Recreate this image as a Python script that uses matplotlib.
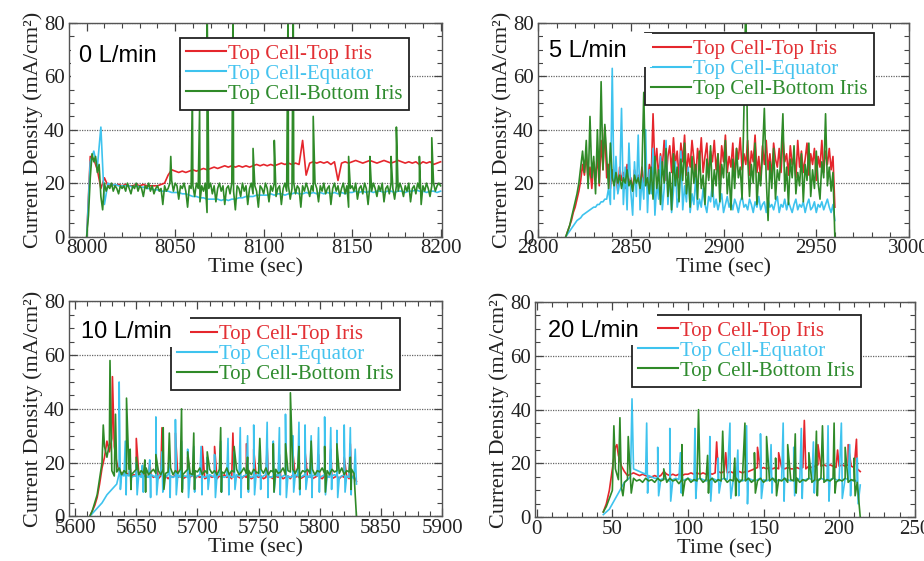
import numpy as np
import matplotlib
matplotlib.use("Agg")
import matplotlib.pyplot as plt
from matplotlib.ticker import MultipleLocator
from matplotlib.patches import Rectangle

plt.rcParams['font.family'] = ['Liberation Serif', 'DejaVu Serif']

series_names = ['Top Cell-Top Iris', 'Top Cell-Equator', 'Top Cell-Bottom Iris']
line_colors = ['#e5262c', '#3ec3ee', '#2f8a28']
text_colors = ['#e23034', '#45c3ef', '#2e8b2e']
flow_labels = ['0 L/min', '5 L/min', '10 L/min', '20 L/min']
y_ticks = [0, 20, 40, 60, 80]

# ---------------- Panel 1 : 0 L/min ----------------
p1_t_rc = np.arange(8000, 8201, 2)
p1_red = [0, 30, 29, 25, 18, 22, 19, 19.5, 19, 19.5,
          19, 19.5, 19, 19, 19.5, 19, 19.5, 19, 19, 19,
          19, 19.5, 20, 23, 25, 24.5, 24, 24.5, 24, 24.5,
          25, 24.5, 25, 25.5, 25, 25.5, 26, 25.5, 26, 26.5,
          26, 26.5, 26, 26.5, 26, 26.5, 26, 26.5, 27, 26.5,
          27, 26.5, 27, 26.5, 27, 27.5, 27, 27.5, 27, 27.5,
          27, 36, 23, 27.5, 28, 27.5, 28, 27.5, 28, 27,
          28, 21, 27.5, 28, 27.5, 28, 28.5, 28, 27.5, 28,
          28.5, 28, 27.5, 28, 28.5, 28, 27.5, 28, 28.5, 28,
          27.5, 28, 27.5, 28, 27, 28, 27.5, 28, 27, 27.5,
          28]
p1_cyan = [0, 28, 32, 26, 41, 12, 20, 19, 19.5, 19,
           19, 19, 19, 18.5, 19, 18.5, 18.5, 18, 18, 17.5,
           17.5, 17, 17, 17, 16.5, 16.5, 16.5, 16, 16, 15.5,
           15, 15, 14.5, 14.5, 14, 14, 14, 14, 13.5, 14,
           13.5, 14, 14, 14.5, 14.5, 15, 15, 15, 15.5, 15.5,
           15.5, 15.5, 16, 15.5, 16, 16, 15.5, 16, 16, 16.5,
           16, 16, 16.5, 16, 16.5, 16, 16.5, 16, 16.5, 16,
           16.5, 16, 16.5, 16, 16.5, 16.5, 17, 16.5, 17, 16.5,
           17, 16.5, 17, 17, 16.5, 17, 17, 16.5, 17, 17,
           16.5, 17, 17, 17.5, 17, 17, 16.5, 17, 17, 16.5,
           17]
p1_t_g = np.arange(8000, 8201, 1)
p1_green = [0, 8, 22, 31, 28, 30, 24, 27, 15, 10,
            20, 17, 19, 18, 20, 17, 19, 18, 16, 19,
            18, 19, 17, 20, 18, 16, 19, 18, 20, 17,
            19, 18, 15, 19, 18, 20, 17, 19, 16, 18,
            19, 17, 18, 12, 19, 17, 18, 20, 21, 17,
            20, 19, 14, 19, 18, 20, 17, 11, 19, 18,
            19, 15, 20, 18, 13, 19, 17, 20, 9, 18,
            20, 16, 19, 13, 18, 20, 17, 19, 12, 18,
            19, 16, 20, 17, 10, 19, 18, 15, 20, 17,
            19, 12, 18, 20, 16, 19, 17, 11, 19, 18,
            16, 20, 18, 13, 19, 17, 20, 15, 18, 19,
            12, 18, 20, 17, 19, 14, 18, 20, 16, 19,
            18, 11, 19, 17, 20, 18, 15, 19, 17, 20,
            18, 13, 19, 17, 20, 16, 18, 19, 12, 18,
            20, 17, 19, 15, 18, 20, 16, 19, 11, 18,
            19, 17, 20, 14, 18, 19, 16, 20, 18, 12,
            19, 17, 20, 18, 15, 19, 17, 20, 13, 18,
            19, 16, 20, 18, 14, 19, 17, 20, 18, 15,
            19, 17, 20, 13, 18, 19, 16, 20, 18, 12,
            19, 17, 20, 18, 15, 19, 20, 17, 19, 20,
            19]
p1_green_spk_t = [8047.5, 8059.7, 8063.8, 8068.0, 8082.7, 8094, 8106, 8113.8,
                  8116.7, 8128, 8148, 8160, 8172, 8175, 8188, 8195]
p1_green_spk_v = [30, 55, 48, 90, 90, 33, 36, 90, 90, 45, 30, 30, 30, 41, 30, 37]

# ---------------- Panel 2 : 5 L/min ----------------
p2_t = np.arange(2815, 2961, 1)
p2_red = [0, 2, 4, 6, 9, 11, 14, 17, 21, 27,
          23, 31, 21, 26, 18, 28, 22, 30, 19, 36,
          25, 41, 22, 27, 18, 25, 20, 23, 17, 26,
          21, 24, 18, 27, 20, 22, 17, 25, 21, 23,
          19, 26, 20, 24, 18, 27, 22, 46, 25, 33,
          22, 31, 26, 36, 21, 30, 34, 24, 37, 27,
          32, 22, 35, 28, 38, 23, 31, 26, 36, 29,
          21, 33, 27, 37, 24, 30, 35, 22, 32, 28,
          36, 25, 31, 21, 34, 28, 38, 24, 30, 26,
          35, 22, 33, 29, 37, 25, 31, 27, 36, 23,
          32, 28, 38, 24, 30, 21, 34, 27, 36, 25,
          31, 22, 35, 29, 26, 33, 24, 37, 28, 31,
          23, 34, 27, 30, 22, 36, 26, 32, 24, 29,
          35, 23, 31, 27, 33, 21, 30, 26, 36, 24,
          32, 27, 33, 25, 30, 11]
p2_cyan = [0, 1, 2, 3, 4, 5, 6, 6.5, 7, 8,
           8.5, 9, 9.5, 10, 10.5, 11, 11, 12, 12, 13,
           13, 14, 14, 18, 12, 63, 14, 30, 16, 20,
           48, 12, 26, 10, 35, 17, 8, 28, 15, 38,
           10, 22, 14, 40, 9, 25, 16, 33, 8, 20,
           14, 30, 10, 18, 36, 12, 24, 9, 17, 28,
           11, 15, 32, 10, 19, 13, 26, 9, 16, 12,
           22, 10, 14, 11, 18, 12, 9, 15, 13, 20,
           11, 14, 10, 13, 16, 9, 12, 15, 11, 13,
           10, 14, 12, 9, 13, 15, 11, 12, 10, 14,
           12, 9, 13, 11, 15, 10, 12, 13, 9, 14,
           11, 12, 10, 13, 15, 9, 12, 11, 14, 10,
           13, 11, 9, 12, 14, 10, 12, 11, 13, 9,
           12, 14, 10, 11, 13, 9, 12, 11, 13, 10,
           12, 14, 11, 9, 12, 6]
p2_green = [0, 2, 4, 7, 10, 13, 16, 20, 26, 32,
            24, 36, 18, 45, 22, 30, 16, 40, 20, 58,
            25, 42, 30, 18, 35, 22, 19, 24, 20, 23,
            18, 22, 20, 25, 19, 21, 17, 23, 20, 22,
            18, 24, 54, 19, 22, 16, 26, 14, 30, 18,
            25, 12, 28, 20, 33, 15, 24, 10, 31, 19,
            26, 13, 29, 21, 35, 16, 24, 11, 30, 20,
            27, 14, 32, 18, 23, 12, 29, 21, 34, 15,
            25, 19, 31, 13, 27, 22, 36, 16, 24, 10,
            29, 18, 33, 22, 26, 14, 48, 90, 30, 15,
            27, 20, 35, 12, 24, 19, 31, 48, 22, 6,
            28, 18, 33, 14, 25, 21, 30, 46, 17, 26,
            12, 29, 22, 34, 16, 24, 19, 31, 13, 27,
            21, 35, 15, 25, 18, 32, 20, 14, 28, 22,
            46, 19, 26, 17, 24, 0]

# ---------------- Panel 3 : 10 L/min ----------------
p3_t = np.arange(5612, 5831, 2)
p3_red = [0, 2, 4, 7, 12, 18, 22, 28, 24, 29,
          26, 20, 17, 16, 15.5, 16, 15.5, 15, 15.5, 15,
          16, 15, 15.5, 14.5, 15, 15.5, 14.5, 15, 14, 15,
          14.5, 15, 14, 15, 14.5, 15.5, 14.5, 15, 14, 14.5,
          15, 14.5, 15.5, 14, 15, 14.5, 15, 14, 14.5, 15,
          14.5, 15, 14, 15, 14.5, 15.5, 14.5, 15, 14, 14.5,
          15, 14.5, 14, 15, 14.5, 15, 14, 14.5, 15, 14.5,
          15, 14, 14.5, 15, 14.5, 14, 15, 14.5, 15, 14,
          14.5, 15, 14, 15.5, 14.5, 15, 14, 14.5, 15, 14.5,
          15, 14, 14.5, 15, 14.5, 14, 15, 14.5, 15, 14,
          14.5, 15, 14, 15, 14.5, 15, 14, 14.5, 15, 13]
p3_cyan = [0, 1, 2, 3, 4, 5, 6.5, 8, 9, 10,
           11, 12, 16, 15.5, 15, 15.5, 15, 14.5, 15, 15,
           15.5, 14.5, 15, 15, 14.5, 15.5, 15, 14.5, 15, 15.5,
           15, 14.5, 15.5, 15, 14.5, 15, 15.5, 14.5, 15, 15,
           14.5, 15.5, 15, 14.5, 15, 15.5, 15, 14.5, 15, 15.5,
           15, 14.5, 15, 15.5, 15, 14.5, 15, 15.5, 14.5, 15,
           15.5, 15, 14.5, 15, 15.5, 15, 14.5, 15, 15.5, 15,
           14.5, 15, 15.5, 15, 14.5, 15, 15.5, 15, 14.5, 15,
           15.5, 15, 14.5, 15, 15.5, 15, 14.5, 15, 15.5, 15,
           14.5, 15, 15.5, 15, 14.5, 15, 15.5, 15, 14.5, 15,
           15.5, 15, 14.5, 15, 15.5, 15, 14.5, 15, 14, 12]
p3_green = [0, 2, 5, 8, 14, 20, 26, 22, 27, 17,
            15, 16.5, 18, 15.5, 17, 16, 17.5, 15.5, 16.5, 17.5,
            15.5, 17, 16, 18, 15.5, 16.5, 17.5, 16, 17, 15.5,
            17.5, 16, 16.5, 18, 15.5, 17, 16, 17.5, 15.5, 16.5,
            17.5, 16, 15.5, 17, 16.5, 18, 15.5, 17, 16, 17.5,
            16, 17, 15.5, 17.5, 16.5, 16, 18, 15.5, 17, 16.5,
            17.5, 15.5, 16.5, 18, 16, 17, 15.5, 17.5, 16.5, 16,
            17.5, 16, 18, 15.5, 17, 16.5, 17.5, 16, 16.5, 18,
            15.5, 17, 16.5, 17.5, 16, 18, 15.5, 17, 16.5, 17.5,
            16, 17.5, 15.5, 17, 16.5, 18, 16, 17, 15.5, 17.5,
            16.5, 17, 16, 18, 15.5, 17, 16.5, 17.5, 16, 0]
p3_red_spk_t = [5630.5, 5645, 5650, 5661, 5666, 5671, 5682, 5692, 5704, 5714, 5729,
                5740, 5746, 5757, 5767, 5778, 5788, 5799, 5809, 5820, 5825]
p3_red_spk_v = [52, 18, 29, 20, 22, 33, 31, 22, 26, 26, 31, 27, 25, 26, 23, 24, 24, 23, 25, 22, 27]
p3_cyan_hi_t = [5636, 5641, 5645, 5650, 5655, 5661, 5666, 5671, 5677, 5682, 5687, 5692, 5697,
                5703, 5708, 5714, 5719, 5725, 5730, 5735, 5741, 5746, 5751, 5757, 5762, 5767,
                5772, 5778, 5783, 5788, 5793, 5799, 5804, 5809, 5814, 5820, 5825, 5829]
p3_cyan_hi_v = [50, 28, 22, 20, 19, 21, 37, 24, 22, 36, 28, 25, 26, 26, 22, 23, 28, 29, 24, 33,
                30, 34, 26, 35, 28, 33, 38, 30, 35, 34, 30, 33, 37, 33, 32, 34, 33, 25]
p3_cyan_lo_t = [5637, 5641.7, 5645.7, 5650.7, 5655.7, 5661.7, 5666.7, 5671.7, 5677.7, 5682.7,
                5687.7, 5692.7, 5697.7, 5703.7, 5708.7, 5714.7, 5719.7, 5725.7, 5730.7, 5735.7,
                5741.7, 5746.7, 5751.7, 5757.7, 5762.7, 5767.7, 5772.7, 5778.7, 5783.7, 5788.7,
                5793.7, 5799.7, 5804.7, 5809.7, 5814.7, 5820.7, 5825.7]
p3_cyan_lo_v = [10, 8, 10, 8, 9, 7, 8, 9, 7, 8, 10, 7, 9, 8, 10, 7, 9, 8, 10, 7, 9, 8, 10, 7,
                9, 8, 7, 9, 8, 10, 7, 9, 8, 10, 7, 9, 8]
p3_green_spk_t = [5623, 5628.5, 5633, 5642, 5645, 5645.6, 5650, 5657, 5657.6, 5666, 5672, 5672.6,
                  5677, 5687, 5687.6, 5692, 5697, 5697.6, 5708, 5719, 5719.6, 5730, 5741, 5741.6,
                  5751, 5762, 5762.6, 5772, 5776, 5783, 5783.6, 5793, 5804, 5804.6, 5814, 5825, 5825.6]
p3_green_spk_v = [34, 58, 38, 44, 25, 10, 22, 21, 9, 23, 33, 10, 31, 40, 9, 24, 31, 10, 24, 33,
                  9, 26, 22, 10, 29, 27, 9, 27, 46, 26, 10, 28, 26, 9, 27, 22, 10]

# ---------------- Panel 4 : 20 L/min ----------------
p4_t = np.arange(44, 215, 2)
p4_red = [2, 5, 10, 18, 26, 23, 19, 17, 15.5, 16,
          16.5, 16, 15.5, 16, 15.5, 15, 15, 15.5, 15, 15.5,
          17, 16, 15.5, 16, 15.5, 16, 15.5, 16, 16, 16.5,
          16, 16.5, 16, 16.5, 16, 16.5, 16, 16.5, 17, 16.5,
          17, 16.5, 17, 16.5, 17, 17, 16.5, 17, 17, 17.5,
          18, 18.5, 18, 18.5, 18, 18.5, 18, 18.5, 18, 18.5,
          18, 18.5, 18, 18, 18.5, 18, 18.5, 18, 19, 18.5,
          19, 19.5, 19, 19.5, 19, 19.5, 19, 18.5, 19, 19.5,
          19, 19.5, 19, 18.5, 18, 17]
p4_cyan = [1, 2, 3, 5, 7, 9, 11, 13, 14, 15,
           18, 17.5, 17, 16.5, 16, 15.5, 15, 14.5, 14.5, 14,
           14.5, 14, 13.5, 14, 14.5, 14, 13.5, 14, 14.5, 14,
           13.5, 14, 14.5, 14, 13.5, 14, 14.5, 14, 13.5, 14,
           14.5, 14, 13.5, 14, 14.5, 14, 13.5, 14, 14.5, 14,
           13.5, 14, 14.5, 14, 13.5, 14, 14.5, 14, 13.5, 14,
           14.5, 14, 13.5, 14, 14.5, 14, 13.5, 14, 14.5, 14,
           13.5, 14, 14.5, 14, 13.5, 14, 14.5, 14, 13.5, 14,
           14.5, 14, 13.5, 14, 13, 12]
p4_green = [2, 4, 7, 10, 18, 14, 11, 13, 14, 14,
            14.5, 13.5, 14, 13, 14.5, 13.5, 14, 13, 14.5, 13.5,
            14, 13, 14.5, 13.5, 14, 12.5, 14, 13.5, 14.5, 13,
            14, 13.5, 14.5, 13, 14, 13.5, 14.5, 13, 14, 13.5,
            14.5, 13, 14, 13.5, 14.5, 13, 14, 13.5, 14.5, 13,
            14, 13.5, 14.5, 13, 14, 13.5, 14.5, 13, 14, 13.5,
            14.5, 13, 14, 13.5, 14.5, 13, 14, 13.5, 14.5, 13,
            14, 13.5, 14.5, 13, 14, 13.5, 14.5, 13, 14, 13.5,
            14.5, 13, 14, 13.5, 13, 0]
p4_red_spk_t = [53, 119, 125, 146, 160, 177, 186, 199, 206, 211.5]
p4_red_spk_v = [27, 28, 24, 26, 24, 36, 27, 25, 27, 29]
p4_cyan_hi_t = [63, 72.7, 80, 88, 95, 104.6, 114.5, 120, 127.8, 133, 138.8, 148, 155, 163,
                170, 175, 183, 192.7, 201.5, 207, 212]
p4_cyan_hi_v = [44, 35, 26, 33, 24, 33, 30, 22, 35, 25, 34, 31, 27, 35, 26, 33, 28, 34, 35, 27, 22]
p4_cyan_lo_t = [73.3, 80.6, 88.6, 95.6, 105.2, 115.1, 120.6, 128.4, 133.6, 139.4, 148.6, 155.6,
                163.6, 170.6, 175.6, 183.6, 193.3, 202.1, 207.6, 212.6]
p4_cyan_lo_v = [9, 8, 6, 9, 7, 6, 9, 7, 8, 5, 7, 9, 6, 8, 7, 9, 6, 7, 8, 5]
p4_green_spk_t = [51, 55, 57, 60.5, 62.5, 84, 96, 96.6, 107, 113, 113.6, 123, 131, 131.6, 137.7,
                  144, 144.6, 152, 158, 158.6, 166, 171, 171.6, 180, 185, 185.6, 189, 196.7,
                  197.3, 204, 210, 210.6]
p4_green_spk_v = [34, 37, 8, 30, 9, 18, 27, 8, 40, 23, 9, 32, 22, 8, 35, 24, 9, 30, 22, 8, 27,
                  31, 9, 24, 32, 8, 34, 35, 9, 26, 22, 8]


def merge(t, v, *extra):
    T = [np.asarray(t, float)]
    V = [np.asarray(v, float)]
    for i in range(0, len(extra), 2):
        T.append(np.asarray(extra[i], float))
        V.append(np.asarray(extra[i + 1], float))
    T = np.concatenate(T)
    V = np.concatenate(V)
    o = np.argsort(T, kind='stable')
    return T[o], V[o]


panels = [
    dict(pos=[0.0747, 0.5784, 0.4037, 0.3806], xlim=(7990, 8200.8),
         series=[merge(p1_t_rc, p1_red), merge(p1_t_rc, p1_cyan),
                 merge(p1_t_g, p1_green, p1_green_spk_t, p1_green_spk_v)],
         leg=(0.298, 0.93), rect=(0.005, 0.725, 0.290, 0.205), txt=(0.027, 0.845)),
    dict(pos=[0.5823, 0.5784, 0.4015, 0.3806], xlim=(2800, 3000),
         series=[merge(p2_t, p2_red), merge(p2_t, p2_cyan), merge(p2_t, p2_green)],
         leg=(0.288, 0.952), rect=(0.013, 0.794, 0.294, 0.159), txt=(0.03, 0.867)),
    dict(pos=[0.0747, 0.0797, 0.4037, 0.3829], xlim=(5595, 5900),
         series=[merge(p3_t, p3_red, p3_red_spk_t, p3_red_spk_v),
                 merge(p3_t, p3_cyan, p3_cyan_hi_t, p3_cyan_hi_v, p3_cyan_lo_t, p3_cyan_lo_v),
                 merge(p3_t, p3_green, p3_green_spk_t, p3_green_spk_v)],
         leg=(0.273, 0.922), rect=(0.016, 0.79, 0.308, 0.142), txt=(0.032, 0.856)),
    dict(pos=[0.5793, 0.0779, 0.4106, 0.3838], xlim=(-1, 250),
         series=[merge(p4_t, p4_red, p4_red_spk_t, p4_red_spk_v),
                 merge(p4_t, p4_cyan, p4_cyan_hi_t, p4_cyan_hi_v, p4_cyan_lo_t, p4_cyan_lo_v),
                 merge(p4_t, p4_green, p4_green_spk_t, p4_green_spk_v)],
         leg=(0.255, 0.94), rect=(0.015, 0.80, 0.306, 0.149), txt=(0.034, 0.863)),
]

fig = plt.figure(figsize=(9.24, 5.61), dpi=100)
fig.patch.set_facecolor('white')

for i, p in enumerate(panels):
    ax = fig.add_axes(p['pos'])
    lines = []
    for (t, v), c, name in zip(p['series'], line_colors, series_names):
        ln, = ax.plot(t, v, color=c, lw=1.2, label=name)
        lines.append(ln)
    ax.set_xlim(*p['xlim'])
    ax.set_ylim(0, 80)
    ax.set_yticks(y_ticks)
    ax.xaxis.set_major_locator(MultipleLocator(50))
    ax.xaxis.set_minor_locator(MultipleLocator(10))
    ax.yaxis.set_minor_locator(MultipleLocator(5))
    ax.yaxis.grid(True, which='major', color='#666666', linestyle=(0, (1, 1)), lw=0.9)
    ax.set_axisbelow(True)
    ax.tick_params(which='both', direction='in', top=True, right=True,
                   color='#444444', labelsize=15, labelcolor='#222222')
    ax.tick_params(which='major', length=6, width=0.9)
    ax.tick_params(which='minor', length=3.5, width=0.8)
    ax.tick_params(axis='x', pad=2)
    ax.tick_params(axis='y', pad=3)
    for s in ax.spines.values():
        s.set_color('#555555')
        s.set_linewidth(1.0)
    ax.set_xlabel('Time (sec)', fontsize=16, labelpad=0, color='#222222')
    ax.set_ylabel('Current Density (mA/cm²)', fontsize=16, labelpad=1, color='#222222')

    leg = ax.legend(handles=lines, loc='upper left', bbox_to_anchor=p['leg'],
                    bbox_transform=ax.transAxes, borderaxespad=0, frameon=True,
                    fancybox=False, edgecolor='#222222', framealpha=1, fontsize=15,
                    handlelength=1.9, handletextpad=0.1, labelspacing=0.02,
                    borderpad=0.3)
    leg.get_frame().set_linewidth(1.3)
    for txt, c in zip(leg.get_texts(), text_colors):
        txt.set_color(c)
    for h in leg.legend_handles:
        h.set_linewidth(1.5)

    rx, ry, rw, rh = p['rect']
    ax.add_patch(Rectangle((rx, ry), rw, rh, transform=ax.transAxes,
                           facecolor='white', edgecolor='none', zorder=9))
    ax.text(p['txt'][0], p['txt'][1], flow_labels[i], transform=ax.transAxes,
            fontsize=17, family=['Liberation Sans', 'DejaVu Sans'],
            ha='left', va='center', color='black', zorder=10)

fig.savefig('out.png', dpi=100, facecolor='white')
